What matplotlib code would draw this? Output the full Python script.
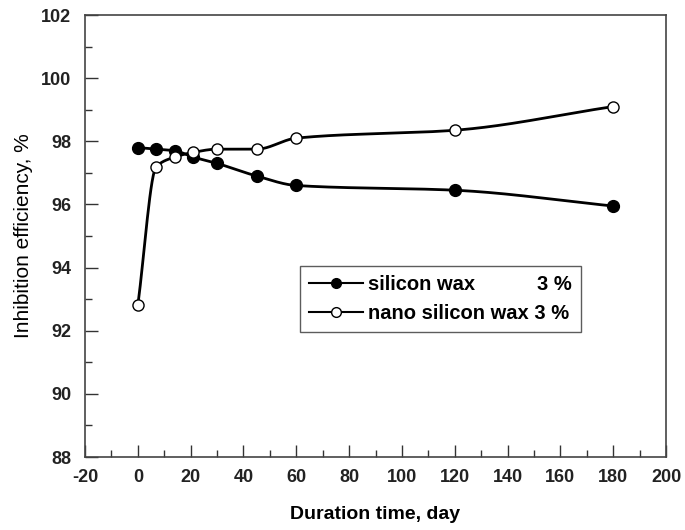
import numpy as np
import matplotlib
matplotlib.use("Agg")
import matplotlib.pyplot as plt
from matplotlib.ticker import MultipleLocator

days = [0, 7, 14, 21, 30, 45, 60, 120, 180]
silicon_wax = [97.8, 97.75, 97.7, 97.5, 97.3, 96.9, 96.6, 96.45, 95.95]
nano_silicon_wax = [92.8, 97.2, 97.5, 97.65, 97.75, 97.75, 98.1, 98.35, 99.1]
label_silicon = "silicon wax           3 %"
label_nano = "nano silicon wax 3 %"


def pchip(x, y, n=400):
    x = np.asarray(x, float)
    y = np.asarray(y, float)
    h = np.diff(x)
    d = np.diff(y) / h
    m = np.zeros_like(y)
    for k in range(1, len(x) - 1):
        if d[k - 1] * d[k] > 0:
            w1 = 2 * h[k] + h[k - 1]
            w2 = h[k] + 2 * h[k - 1]
            m[k] = (w1 + w2) / (w1 / d[k - 1] + w2 / d[k])
    m[0] = d[0]
    m[-1] = d[-1]
    xs = np.linspace(x[0], x[-1], n)
    idx = np.clip(np.searchsorted(x, xs) - 1, 0, len(x) - 2)
    t = (xs - x[idx]) / h[idx]
    h00 = 2 * t**3 - 3 * t**2 + 1
    h10 = t**3 - 2 * t**2 + t
    h01 = -2 * t**3 + 3 * t**2
    h11 = t**3 - t**2
    ys = h00 * y[idx] + h10 * h[idx] * m[idx] + h01 * y[idx + 1] + h11 * h[idx] * m[idx + 1]
    return xs, ys


plt.rcParams['font.family'] = ['Liberation Sans', 'DejaVu Sans']
plt.rcParams['axes.unicode_minus'] = False

fig = plt.figure(figsize=(6.85, 5.3), dpi=100)
ax = fig.add_axes([85 / 685, 1 - 457 / 530, (666 - 85) / 685, (457 - 15) / 530])

xs, ys = pchip(days, silicon_wax)
ax.plot(xs, ys, color='black', lw=2.0, zorder=2)
ax.plot(days, silicon_wax, 'o', color='black', mfc='black', ms=8.5, zorder=3)
xs, ys = pchip(days, nano_silicon_wax)
ax.plot(xs, ys, color='black', lw=2.0, zorder=2)
ax.plot(days, nano_silicon_wax, 'o', color='black', mfc='white', mew=1.0, ms=8, zorder=4)

h1, = ax.plot([], [], '-o', color='black', mfc='black', ms=7, lw=1.5)
h2, = ax.plot([], [], '-o', color='black', mfc='white', ms=7, lw=1.5, mew=1.0)
leg = ax.legend([h1, h2], [label_silicon, label_nano], loc='upper left',
                bbox_to_anchor=((300 - 85) / 581, (457 - 266) / 442),
                prop={'weight': 'bold', 'size': 14.5}, frameon=True, fancybox=False,
                edgecolor='#333333', handlelength=2.7, handletextpad=0.25,
                borderpad=0.45, labelspacing=0.5, borderaxespad=0)
leg.get_frame().set_linewidth(1.0)

ax.set_xlim(-20, 200)
ax.set_ylim(88, 102)
ax.xaxis.set_major_locator(MultipleLocator(20))
ax.xaxis.set_minor_locator(MultipleLocator(10))
ax.yaxis.set_major_locator(MultipleLocator(2))
ax.yaxis.set_minor_locator(MultipleLocator(1))
ax.tick_params(which='both', direction='in', top=False, right=False, width=1, color='#333333')
ax.tick_params(which='major', length=9, labelsize=13)
ax.tick_params(which='minor', length=5)
ax.tick_params(axis='x', pad=9)
ax.tick_params(axis='y', pad=10)
for lbl in ax.get_xticklabels() + ax.get_yticklabels():
    lbl.set_fontweight('bold')
    lbl.set_color('#222222')
for s in ax.spines.values():
    s.set_color('#444444')
    s.set_linewidth(1.2)

ax.set_xlabel('Duration time, day', fontsize=14, fontweight='bold', labelpad=14)
ax.set_ylabel('Inhibition efficiency, %', fontsize=15, fontweight='normal', labelpad=6)

fig.savefig('out.png', dpi=100)
